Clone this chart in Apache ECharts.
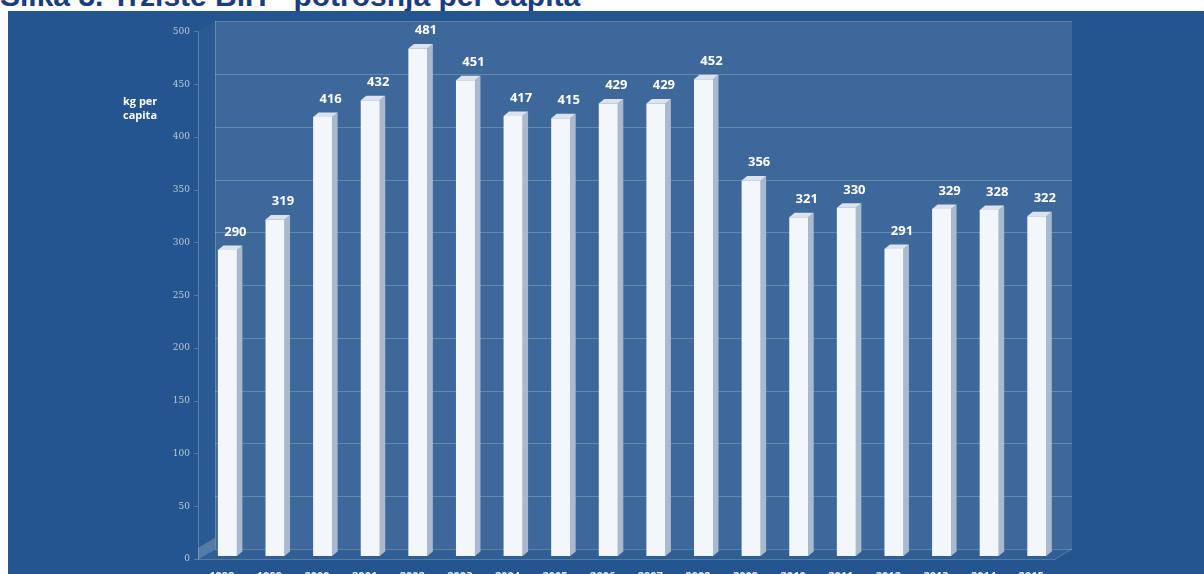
<!DOCTYPE html>
<html>
<head>
<meta charset="utf-8">
<script src="https://cdn.jsdelivr.net/npm/echarts@6/dist/echarts.min.js"></script>
<style>
  html, body { margin: 0; padding: 0; background: #fff; }
  #title {
    position: absolute; left: 0; top: -19px;
    font: bold 30px "Liberation Sans", Arial, sans-serif;
    line-height: 30px; color: #1c3c80; white-space: nowrap;
  }
  #panel { position: absolute; left: 8px; top: 11px; width: 1196px; height: 563px; background: #24558f; }
  #chart { position: absolute; left: 0; top: 0; width: 1204px; height: 574px; }
</style>
</head>
<body>
<div id="title">Slika 3. Tržište BiH - potrošnja per capita</div>
<div id="panel"></div>
<div id="chart"></div>
<script>
var years = ['1998', '1999', '2000', '2001', '2002', '2003', '2004', '2005', '2006',
  '2007', '2008', '2009', '2010', '2011', '2012', '2013', '2014', '2015'];
var consumption = [290, 319, 416, 432, 481, 451, 417, 415, 429,
  429, 452, 356, 321, 330, 291, 329, 328, 322];
var yTicks = [0, 50, 100, 150, 200, 250, 300, 350, 400, 450, 500];

var chartDom = document.getElementById('chart');
var myChart = echarts.init(chartDom);
var option;

// depth of the fake 3d box (front axis -> back wall)
var DX = 17, DY = -10;
var lineCol = 'rgba(255,255,255,0.22)';

option = {
  animation: false,
  graphic: [
    {
      type: 'text', left: 123, top: 95,
      style: { text: 'kg per\ncapita', fill: '#fff', font: 'bold 11px "Open Sans", sans-serif', lineHeight: 14 }
    }
  ],
  grid: [
    // back wall
    { left: 215, right: 132, top: 21.5, bottom: 25, show: true, backgroundColor: '#3e6899', borderWidth: 0, outerBoundsMode: 'none' },
    // front axes
    { left: 198, right: 149, top: 31.5, bottom: 15, outerBoundsMode: 'none' },
    // bars (middle depth)
    { left: 203.6, right: 143.4, top: 28.5, bottom: 18, outerBoundsMode: 'none' }
  ],
  xAxis: [
    { gridIndex: 0, type: 'category', data: years, show: false },
    {
      gridIndex: 1, type: 'category', data: years,
      axisLine: { lineStyle: { color: lineCol } },
      axisTick: { length: 4, lineStyle: { color: lineCol } },
      axisLabel: { color: '#eef2f8', fontWeight: 'bold', fontSize: 11, margin: 12, fontFamily: '"Open Sans", sans-serif' }
    },
    { gridIndex: 2, type: 'category', data: years, show: false }
  ],
  yAxis: [
    {
      gridIndex: 0, type: 'value', min: 0, max: 500, interval: 50,
      axisLine: { show: true, lineStyle: { color: lineCol } },
      axisTick: { show: false }, axisLabel: { show: false },
      splitLine: { lineStyle: { color: lineCol } }
    },
    {
      gridIndex: 1, type: 'value', min: 0, max: 500, interval: 50,
      axisLine: { show: true, lineStyle: { color: lineCol } },
      axisTick: { show: true, length: 4, lineStyle: { color: lineCol } },
      axisLabel: { color: '#b9c8dd', fontSize: 9, margin: 8, fontFamily: '"DejaVu Serif", serif' },
      splitLine: { show: false }
    },
    { gridIndex: 2, type: 'value', min: 0, max: 500, show: false, splitLine: { show: false } }
  ],
  series: [
    {
      // floor, left wall and the slanted tick lines
      type: 'custom', xAxisIndex: 1, yAxisIndex: 1, silent: true, z: 1,
      data: yTicks,
      renderItem: function (params, api) {
        var v = api.value(0);
        var band = api.size([1, 0])[0];
        var p = api.coord([0, v]);
        var x = p[0] - band / 2;
        var kids = [{
          type: 'line',
          shape: { x1: x, y1: p[1], x2: x + DX, y2: p[1] + DY },
          style: { stroke: lineCol, lineWidth: 1 }
        }];
        if (params.dataIndex === 0) {
          var last = api.coord([years.length - 1, 0]);
          var xr = last[0] + band / 2;
          var top = api.coord([0, 500]);
          kids.unshift({
            type: 'polygon',
            shape: { points: [[x, p[1]], [xr, p[1]], [xr + DX, p[1] + DY], [x + DX, p[1] + DY]] },
            style: { fill: 'rgba(255,255,255,0.06)' }
          });
          kids.unshift({
            type: 'polygon',
            shape: { points: [[x, top[1]], [x + DX, top[1] + DY], [x + DX, p[1] + DY], [x, p[1]]] },
            style: { fill: 'rgba(255,255,255,0.03)' }
          });
          kids.push({
            type: 'line',
            shape: { x1: xr, y1: p[1], x2: xr + DX, y2: p[1] + DY },
            style: { stroke: lineCol, lineWidth: 1 }
          });
        }
        return { type: 'group', children: kids };
      }
    },
    {
      type: 'custom', xAxisIndex: 2, yAxisIndex: 2, z: 5,
      data: consumption.map(function (v, i) { return [i, v]; }),
      renderItem: function (params, api) {
        var top = api.coord([api.value(0), api.value(1)]);
        var base = api.coord([api.value(0), 0]);
        var w = 19, dx = 5.5, dy = 4.5;
        var x0 = top[0] - w / 2, x1 = top[0] + w / 2;
        return {
          type: 'group',
          children: [
            {
              type: 'polygon',
              shape: { points: [[x1, top[1]], [x1 + dx, top[1] - dy], [x1 + dx, base[1] - dy], [x1, base[1]]] },
              style: { fill: '#a8b9d0' }
            },
            {
              type: 'polygon',
              shape: { points: [[x0, top[1]], [x1, top[1]], [x1 + dx, top[1] - dy], [x0 + dx, top[1] - dy]] },
              style: { fill: '#dbe3ee' }
            },
            {
              type: 'rect',
              shape: { x: x0, y: top[1], width: w, height: base[1] - top[1] },
              style: { fill: '#f3f6fa' }
            },
            {
              type: 'text',
              x: top[0] + 8, y: top[1] - dy - 7,
              style: {
                text: String(api.value(1)), fill: '#ffffff',
                font: 'bold 13px "Open Sans", sans-serif',
                align: 'center', verticalAlign: 'bottom'
              }
            }
          ]
        };
      }
    }
  ]
};

option && myChart.setOption(option);
</script>
</body>
</html>
